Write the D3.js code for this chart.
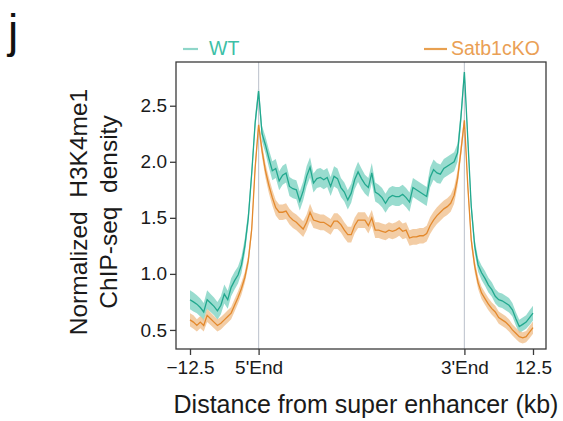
<!DOCTYPE html>
<html>
<head>
<meta charset="utf-8">
<script src="https://cdn.jsdelivr.net/npm/d3@7"></script>
<style>
  html, body { margin: 0; padding: 0; background: #fff; }
  svg { display: block; font-family: "Liberation Sans", Arial, sans-serif; }
</style>
</head>
<body>
<svg id="chart" width="563" height="421"></svg>
<script>
// ---- data (bins: 0..100; 5'End at bin 20, 3'End at bin 80) ----
const bins = d3.range(0, 101);
const xTickValues = [0, 20, 80, 100];
const xTickLabels = ["\u221212.5", "5'End", "3'End", "12.5"];
const yTickValues = [0.5, 1.0, 1.5, 2.0, 2.5];
const seriesNames = ["WT", "Satb1cKO"];

const wtMean = [
  0.77,0.75,0.73,0.70,0.66,0.77,0.74,0.71,0.67,0.72,0.82,0.77,0.88,0.94,0.99,1.08,1.25,1.50,1.90,2.35,2.63,
  2.25,2.15,2.03,1.92,1.94,1.83,1.88,1.90,1.78,1.76,1.75,1.65,1.74,1.87,1.95,1.81,1.85,1.86,1.84,1.86,
  1.78,1.87,1.85,1.77,1.73,1.66,1.72,1.84,1.91,1.85,1.80,1.77,1.90,1.73,1.71,1.68,1.63,1.68,1.70,1.69,
  1.69,1.71,1.68,1.64,1.77,1.75,1.73,1.71,1.69,1.86,1.93,1.90,1.89,1.94,1.96,1.98,2.00,2.08,2.40,2.80,
  2.20,1.60,1.25,1.08,1.01,0.96,0.90,0.86,0.80,0.77,0.76,0.74,0.72,0.68,0.60,0.53,0.55,0.57,0.61,0.65
];
const koMean = [
  0.59,0.57,0.54,0.57,0.54,0.63,0.60,0.57,0.54,0.56,0.59,0.62,0.65,0.72,0.79,0.87,0.97,1.12,1.40,1.95,2.33,
  2.10,1.92,1.79,1.68,1.59,1.55,1.55,1.56,1.51,1.48,1.46,1.43,1.40,1.46,1.55,1.48,1.47,1.46,1.46,1.44,
  1.42,1.47,1.47,1.44,1.39,1.35,1.35,1.43,1.48,1.48,1.48,1.43,1.50,1.39,1.39,1.38,1.37,1.39,1.38,1.39,
  1.41,1.38,1.39,1.32,1.33,1.33,1.34,1.34,1.36,1.43,1.48,1.52,1.55,1.58,1.60,1.63,1.70,1.85,2.10,2.37,
  1.78,1.30,1.07,0.92,0.83,0.78,0.73,0.69,0.66,0.61,0.59,0.57,0.54,0.50,0.47,0.44,0.43,0.44,0.48,0.52
];
const wtSE = [
  0.085,0.085,0.08,0.08,0.08,0.085,0.08,0.08,0.08,0.08,0.085,0.08,0.08,0.08,0.075,0.075,0.07,0.065,0.06,0.06,0.07,
  0.07,0.075,0.08,0.085,0.085,0.085,0.085,0.085,0.085,0.085,0.085,0.085,0.085,0.09,0.09,0.085,0.085,0.085,0.085,0.085,
  0.085,0.09,0.09,0.085,0.085,0.085,0.085,0.085,0.09,0.09,0.085,0.085,0.09,0.085,0.085,0.085,0.085,0.085,0.085,0.085,
  0.085,0.085,0.085,0.085,0.085,0.085,0.085,0.085,0.085,0.09,0.09,0.09,0.085,0.085,0.085,0.085,0.085,0.08,0.07,0.06,
  0.06,0.06,0.06,0.06,0.065,0.065,0.065,0.065,0.065,0.065,0.065,0.065,0.065,0.06,0.06,0.06,0.06,0.06,0.065,0.065
];
const koSE = [
  0.06,0.06,0.055,0.055,0.055,0.06,0.055,0.055,0.055,0.055,0.055,0.055,0.055,0.055,0.055,0.055,0.05,0.05,0.05,0.05,0.055,
  0.06,0.065,0.07,0.07,0.07,0.07,0.07,0.07,0.07,0.07,0.07,0.07,0.07,0.07,0.075,0.07,0.07,0.07,0.07,0.07,
  0.07,0.07,0.07,0.07,0.07,0.07,0.07,0.07,0.07,0.07,0.07,0.07,0.07,0.07,0.07,0.07,0.07,0.07,0.07,0.07,
  0.07,0.07,0.07,0.07,0.07,0.07,0.07,0.07,0.07,0.075,0.075,0.075,0.075,0.075,0.075,0.075,0.075,0.07,0.06,0.055,
  0.055,0.055,0.055,0.055,0.055,0.055,0.055,0.055,0.055,0.055,0.055,0.055,0.055,0.05,0.05,0.05,0.05,0.05,0.055,0.055
];

// ---- layout ----
const svg = d3.select("#chart");
const frame = {left: 176, right: 546, top: 62, bottom: 349};
const x = d3.scaleLinear().domain([0, 100]).range([190, 533]);
const y = d3.scaleLinear().domain([0.33, 2.89]).range([frame.bottom, frame.top]);

const colors = {
  wtLine: "#22a88e", wtBand: "#7fd3c3",
  koLine: "#e3892d", koBand: "#f0c08e"
};

const area = (mean, se) => d3.area()
  .x(i => x(i))
  .y0(i => y(mean[i] - se[i]))
  .y1(i => y(mean[i] + se[i]))
  .curve(d3.curveLinear);
const line = (mean) => d3.line().x(i => x(i)).y(i => y(mean[i])).curve(d3.curveLinear);

// bands
svg.append("path").attr("d", area(wtMean, wtSE)(bins))
  .attr("fill", colors.wtBand).attr("fill-opacity", 0.8);
svg.append("path").attr("d", area(koMean, koSE)(bins))
  .attr("fill", colors.koBand).attr("fill-opacity", 0.8);

// vertical reference lines
svg.selectAll("line.vref").data([20, 80]).enter().append("line")
  .attr("class", "vref")
  .attr("x1", d => x(d)).attr("x2", d => x(d))
  .attr("y1", frame.top).attr("y2", frame.bottom)
  .attr("stroke", "#c5cad3").attr("stroke-width", 1.2);

// lines
svg.append("path").attr("d", line(koMean)(bins))
  .attr("fill", "none").attr("stroke", colors.koLine).attr("stroke-width", 1.3);
svg.append("path").attr("d", line(wtMean)(bins))
  .attr("fill", "none").attr("stroke", colors.wtLine).attr("stroke-width", 1.3);

// frame
svg.append("rect")
  .attr("x", frame.left).attr("y", frame.top)
  .attr("width", frame.right - frame.left).attr("height", frame.bottom - frame.top)
  .attr("fill", "none").attr("stroke", "#3b3b3b").attr("stroke-width", 1.3);

// x axis
const xAxis = d3.axisBottom(x).tickValues(xTickValues)
  .tickFormat((d, i) => xTickLabels[i]).tickSize(6).tickSizeOuter(0).tickPadding(6);
const gx = svg.append("g").attr("transform", `translate(0,${frame.bottom})`).call(xAxis);
gx.select(".domain").remove();
gx.selectAll(".tick line").attr("stroke", "#3b3b3b").attr("stroke-width", 1.3);
gx.selectAll(".tick text").attr("font-size", 19).attr("fill", "#1a1a1a")
  .attr("font-family", "'Liberation Sans', Arial, sans-serif");

// y axis
const yAxis = d3.axisLeft(y).tickValues(yTickValues)
  .tickFormat(d3.format(".1f")).tickSize(6).tickSizeOuter(0).tickPadding(3);
const gy = svg.append("g").attr("transform", `translate(${frame.left},0)`).call(yAxis);
gy.select(".domain").remove();
gy.selectAll(".tick line").attr("stroke", "#3b3b3b").attr("stroke-width", 1.3);
gy.selectAll(".tick text").attr("font-size", 19).attr("fill", "#1a1a1a")
  .attr("font-family", "'Liberation Sans', Arial, sans-serif");

// axis titles
svg.append("text")
  .attr("x", 366).attr("y", 413)
  .attr("text-anchor", "middle").attr("font-size", 25).attr("fill", "#1a1a1a")
  .text("Distance from super enhancer (kb)");

const yTitle = svg.append("g").attr("transform", "translate(0,212) rotate(-90)");
yTitle.append("text").attr("x", 0).attr("y", 87)
  .attr("text-anchor", "middle").attr("font-size", 24.5).attr("fill", "#1a1a1a")
  .style("white-space", "pre")
  .text("Normalized  H3K4me1");
yTitle.append("text").attr("x", 0).attr("y", 117)
  .attr("text-anchor", "middle").attr("font-size", 24.5).attr("fill", "#1a1a1a")
  .style("white-space", "pre")
  .text("ChIP-seq  density");

// panel letter
svg.append("text").attr("x", 8).attr("y", 47)
  .attr("font-size", 46).attr("fill", "#111").text("j");

// legend
const legend = [
  {name: seriesNames[0], x1: 183, x2: 198, tx: 209, line: "#8fd6c9", text: "#3dbfa7"},
  {name: seriesNames[1], x1: 424, x2: 447, tx: 451, line: "#e8a050", text: "#eaa055"}
];
const lg = svg.selectAll("g.leg").data(legend).enter().append("g").attr("class", "leg");
lg.append("line").attr("x1", d => d.x1).attr("x2", d => d.x2)
  .attr("y1", 49).attr("y2", 49).attr("stroke", d => d.line).attr("stroke-width", 2.2);
lg.append("text").attr("x", d => d.tx).attr("y", 55)
  .attr("font-size", 19.5).attr("fill", d => d.text).text(d => d.name);
</script>
</body>
</html>
